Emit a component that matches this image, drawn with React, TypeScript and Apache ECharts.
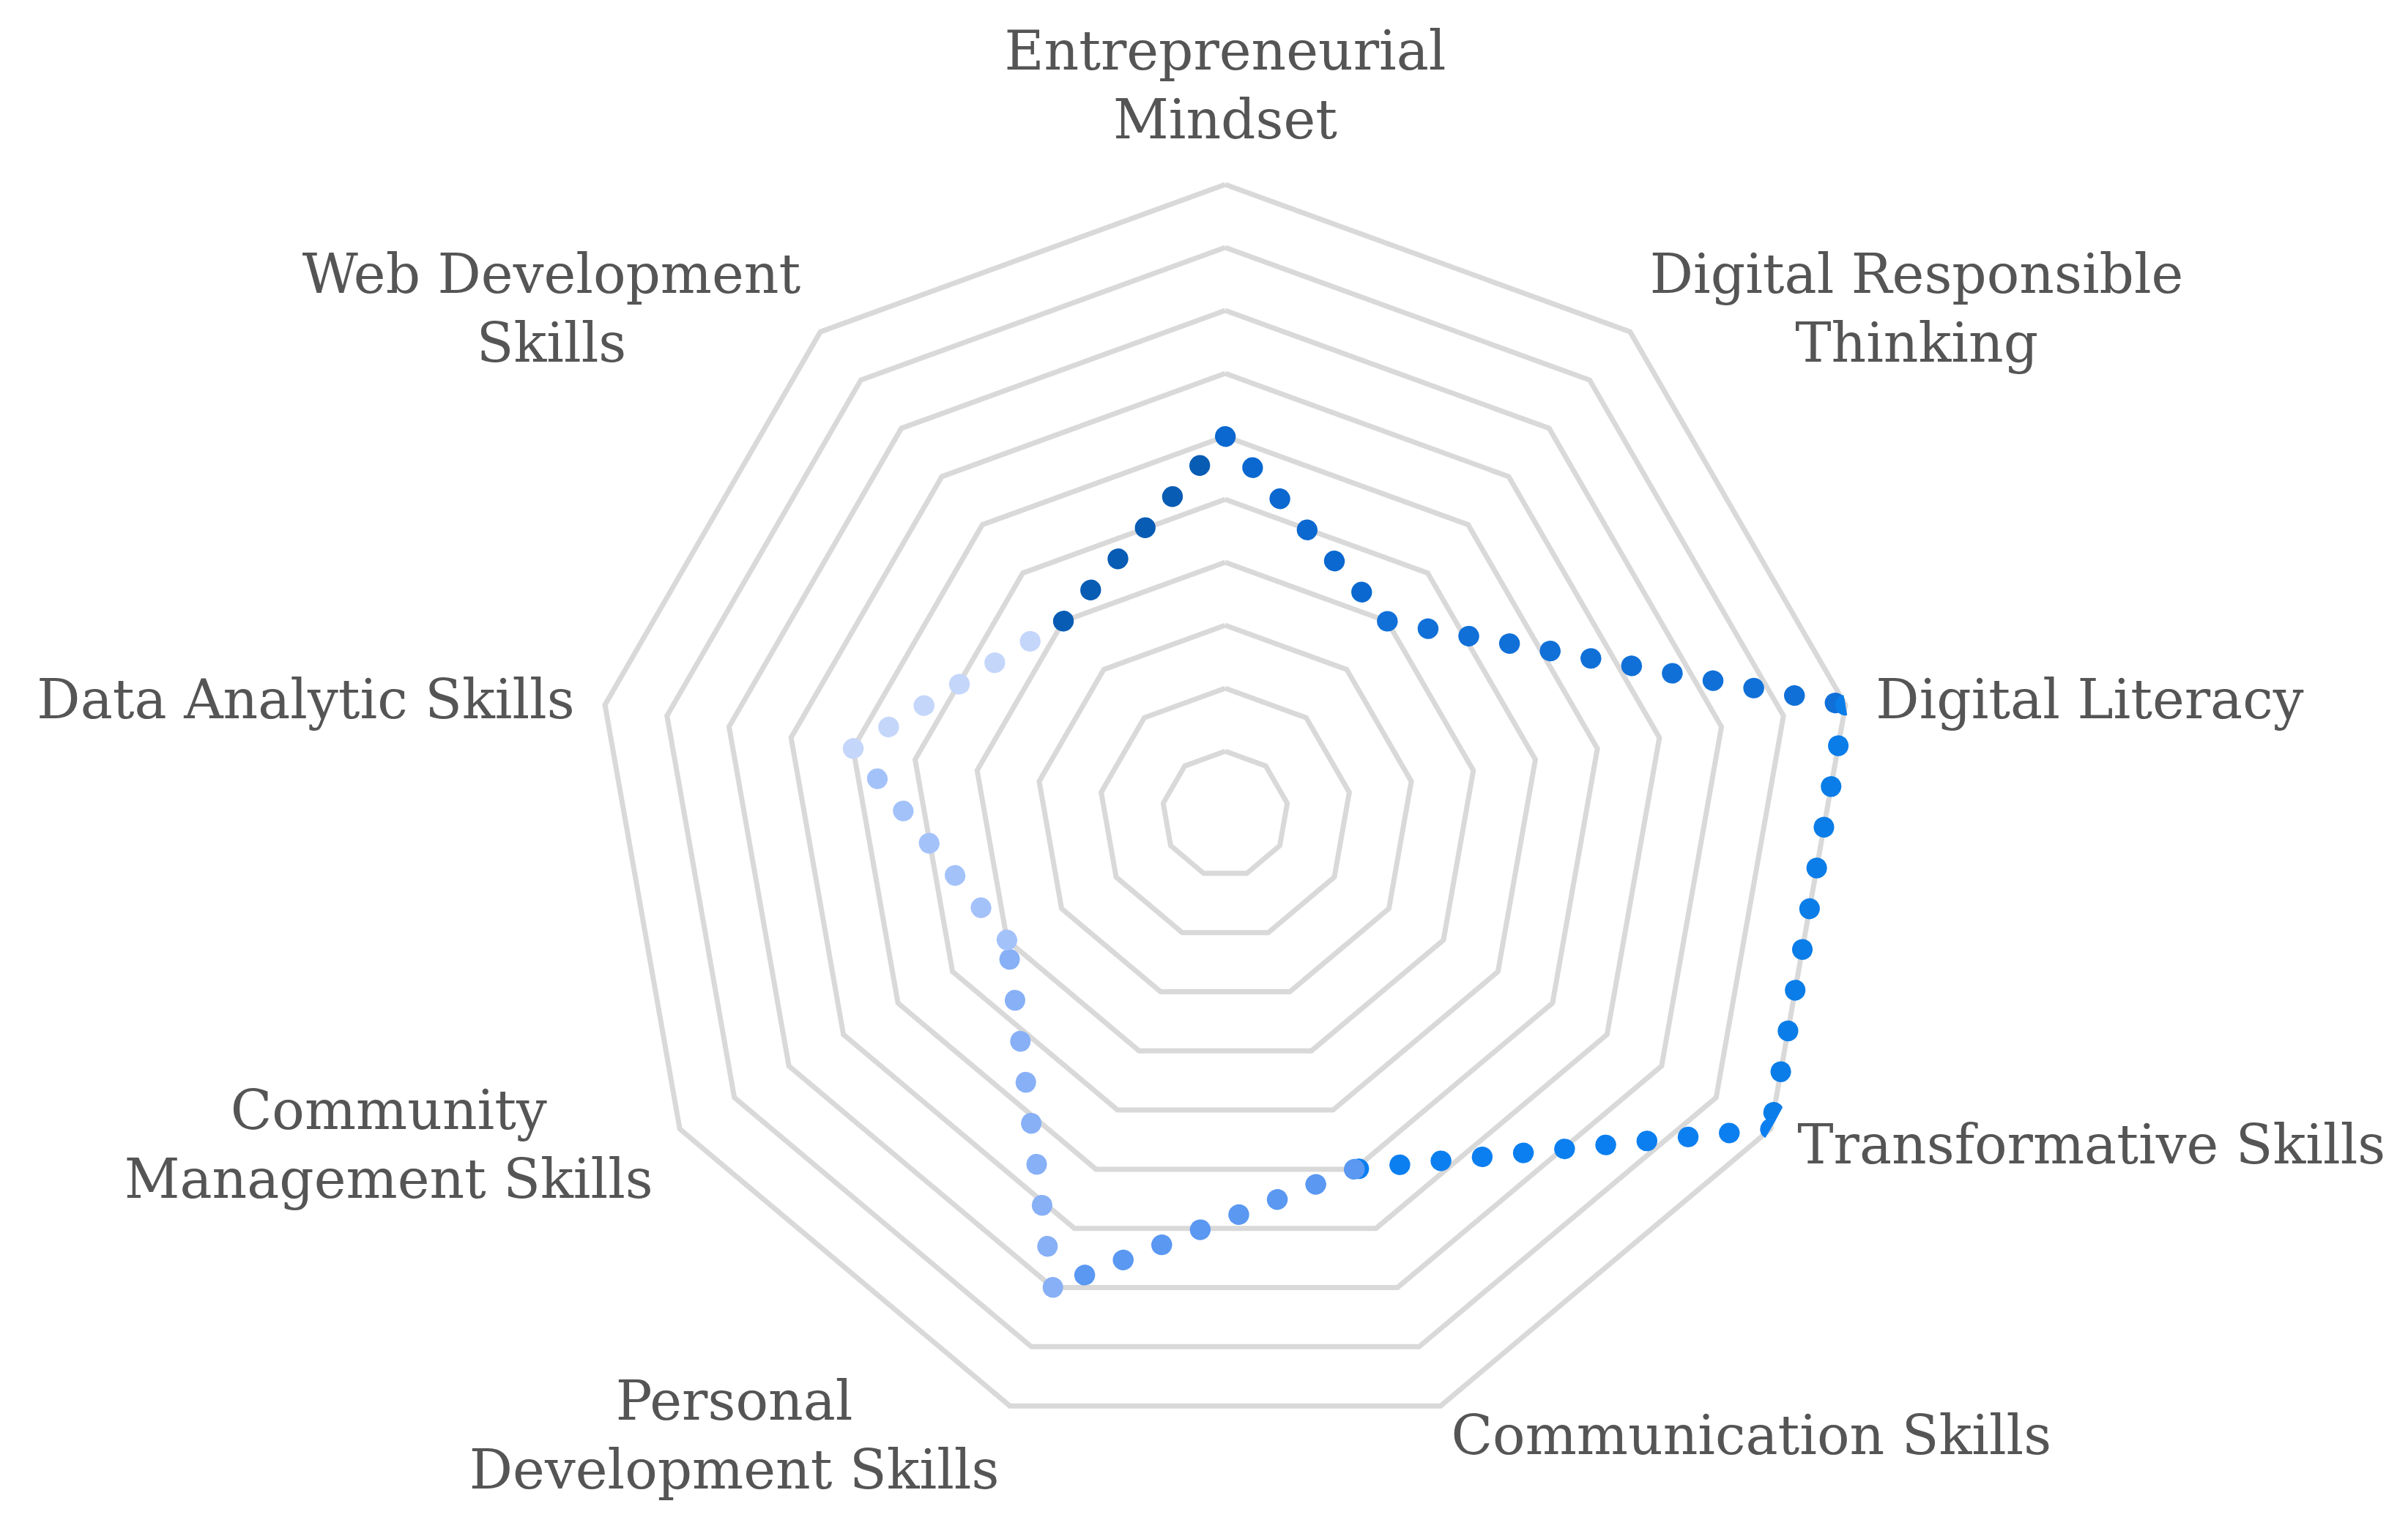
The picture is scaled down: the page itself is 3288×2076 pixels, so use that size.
import React, { useEffect, useRef } from "react";
import * as echarts from "echarts";

// Axis categories, clockwise from the top
const skills = [
  "Entrepreneurial\nMindset",
  "Digital Responsible\nThinking",
  "Digital Literacy",
  "Transformative Skills",
  "Communication Skills",
  "Personal\nDevelopment Skills",
  "Community\nManagement Skills",
  "Data Analytic Skills",
  "Web Development\nSkills",
];

// Scores (0..1) for each skill, same order
const scores = [0.6, 0.4, 1.0, 1.0, 0.6, 0.8, 0.4, 0.6, 0.4];

// Colour of the dotted segment that starts at each skill
const segmentColors = [
  "#0a68d0",
  "#1070d8",
  "#0a7de8",
  "#0c7ff0",
  "#5a98f2",
  "#88b0f6",
  "#a4c2fa",
  "#c4d6fa",
  "#085cb4",
];

const W = 3288;
const H = 2076;
const CX = 1673;
const CY = 1112;
const R = 860;

export default function App() {
  const ref = useRef<HTMLDivElement>(null);

  useEffect(() => {
    document.body.style.margin = "0";
    const chart = echarts.init(ref.current!, undefined, { renderer: "svg" });
    const n = skills.length;
    const step = 360 / n;

    // radar indicators placed counter-clockwise by ECharts: reorder so they read clockwise
    const radarOrder = [0];
    for (let i = n - 1; i >= 1; i--) radarOrder.push(i);

    const series: any[] = [];
    for (let i = 0; i < n; i++) {
      const j = (i + 1) % n;
      series.push({
        type: "line",
        coordinateSystem: "polar",
        showSymbol: false,
        silent: true,
        data: [
          [scores[i], i * step],
          [scores[j], (i + 1) * step],
        ],
        lineStyle: {
          color: segmentColors[i],
          width: 28,
          type: [0.5, 56],
          cap: "round",
          join: "round",
        },
        z: 3,
      });
    }

    chart.setOption({
      animation: false,
      backgroundColor: "#ffffff",
      radar: {
        center: [CX, CY],
        radius: R,
        startAngle: 90,
        splitNumber: 10,
        shape: "polygon",
        nameGap: 42,
        indicator: radarOrder.map((i) => ({ name: skills[i], min: 0, max: 1 })),
        axisName: {
          color: "#555555",
          fontFamily: "DejaVu Serif",
          fontSize: 74,
          lineHeight: 94,
          formatter: (name: string) =>
            name
              .split("\n")
              .map((l) => `{c|${l}}`)
              .join("\n"),
          rich: {
            c: {
              align: "center",
              color: "#555555",
              fontFamily: "DejaVu Serif",
              fontSize: 74,
              lineHeight: 94,
            },
          },
        },
        splitLine: { lineStyle: { color: "#d9d9d9", width: 7 } },
        splitArea: { show: false },
        axisLine: { show: false },
        axisTick: { show: false },
        axisLabel: { show: false },
      },
      polar: { center: [CX, CY], radius: R },
      angleAxis: {
        type: "value",
        min: 0,
        max: 360,
        startAngle: 90,
        clockwise: true,
        show: false,
      },
      radiusAxis: { type: "value", min: 0, max: 1, show: false },
      series,
    });

    return () => chart.dispose();
  }, []);

  return (
    <div
      ref={ref}
      style={{ position: "absolute", left: 0, top: 0, width: W, height: H }}
    />
  );
}
